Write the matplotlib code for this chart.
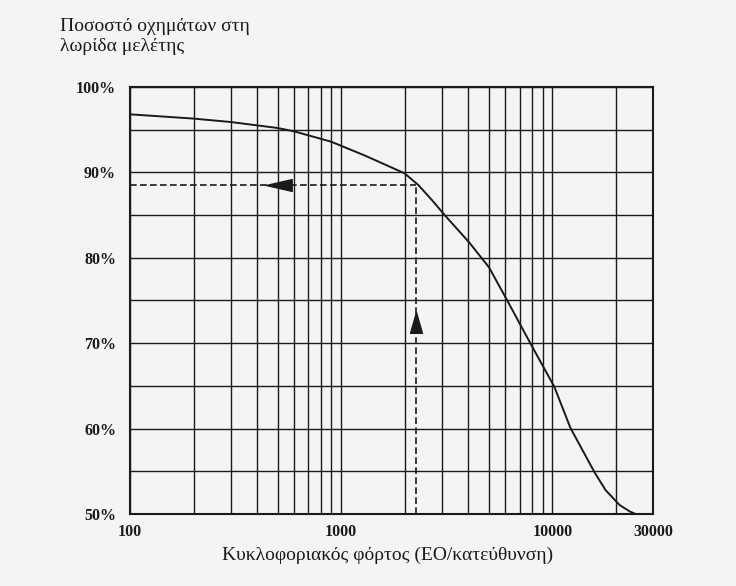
import numpy as np
import matplotlib
matplotlib.use("Agg")
import matplotlib.pyplot as plt
from matplotlib.ticker import FixedLocator, NullLocator

# ---- data ----
volume = [100, 200, 300, 500, 600, 896, 1288, 1995, 2326, 2683, 3094, 4025, 5012,
          6105, 8031, 10227, 12180, 15840, 17880, 20840, 23270, 24800]
percent = [96.8, 96.3, 95.9, 95.2, 94.8, 93.6, 92.0, 89.9, 88.5, 86.8, 85.0, 81.85, 78.9,
           75.05, 69.6, 64.9, 60.1, 54.9, 52.8, 51.05, 50.3, 50.0]

read_volume = 2270      # example reading (vertical dashed line)
read_percent = 88.5     # example reading (horizontal dashed line)
arrow_left_tip = 440    # x of the left-pointing arrowhead tip
arrow_up_tip = 73.7     # y of the upward arrowhead tip

xtick_values = [100, 1000, 10000, 30000]
xtick_labels = ["100", "1000", "10000", "30000"]
ytick_values = [50, 60, 70, 80, 90, 100]
ytick_labels = ["50%", "60%", "70%", "80%", "90%", "100%"]
vgrid = list(range(100, 1001, 100)) + list(range(2000, 10001, 1000)) + [20000, 30000]
hgrid = list(range(50, 101, 5))

ylabel_text = "Ποσοστό οχημάτων στη\nλωρίδα μελέτης"
xlabel_text = "Κυκλοφοριακός φόρτος (ΕΟ/κατεύθυνση)"

# ---- figure ----
plt.rcParams['font.family'] = ['Liberation Serif', 'DejaVu Serif']
bg = '#f4f4f4'
ink = '#1a1a1a'
fig = plt.figure(figsize=(7.36, 5.86), dpi=100, facecolor=bg)
ax = fig.add_axes([130/736, 1 - 514/586, 523/736, 427/586], facecolor=bg)

ax.set_xscale('log')
ax.set_xlim(100, 30000)
ax.set_ylim(50, 100)

for v in vgrid:
    ax.axvline(v, color=ink, lw=1.0, zorder=1)
for h in hgrid:
    ax.axhline(h, color=ink, lw=1.0, zorder=1)

# dashed reading lines
ax.plot([100, read_volume], [read_percent, read_percent], color=ink, lw=1.2, ls=(0, (4, 2)), zorder=2)
ax.plot([read_volume, read_volume], [50, read_percent], color=ink, lw=1.2, ls=(0, (4, 2)), zorder=2)

# curve
ax.plot(volume, percent, color=ink, lw=1.4, zorder=3)

# arrowheads
left_head = [(0, 0), (2, 0.46), (2, -0.46), (0, 0)]
up_head = [(0, 0), (0.57, -2), (-0.57, -2), (0, 0)]
ax.plot([arrow_left_tip], [read_percent], marker=left_head, markersize=37, color=ink, zorder=4)
ax.plot([read_volume], [arrow_up_tip], marker=up_head, markersize=30, color=ink, zorder=4)

ax.xaxis.set_major_locator(FixedLocator(xtick_values))
ax.xaxis.set_minor_locator(NullLocator())
ax.set_xticklabels(xtick_labels)
ax.set_yticks(ytick_values)
ax.set_yticklabels(ytick_labels)
ax.tick_params(axis='both', length=0, labelsize=11.5, colors=ink)
ax.tick_params(axis='y', pad=10)
ax.tick_params(axis='x', pad=7)
for lab in ax.get_xticklabels() + ax.get_yticklabels():
    lab.set_fontweight('bold')

for s in ax.spines.values():
    s.set_color(ink)
    s.set_linewidth(1.5)

fig.text(60/736, 1 - 18/586, ylabel_text, ha='left', va='top', fontsize=14,
         color=ink, linespacing=1.25)
fig.text(388/736, 1 - 555/586, xlabel_text, ha='center', va='center', fontsize=14, color=ink)

fig.savefig('out.png', dpi=100, facecolor=bg)
